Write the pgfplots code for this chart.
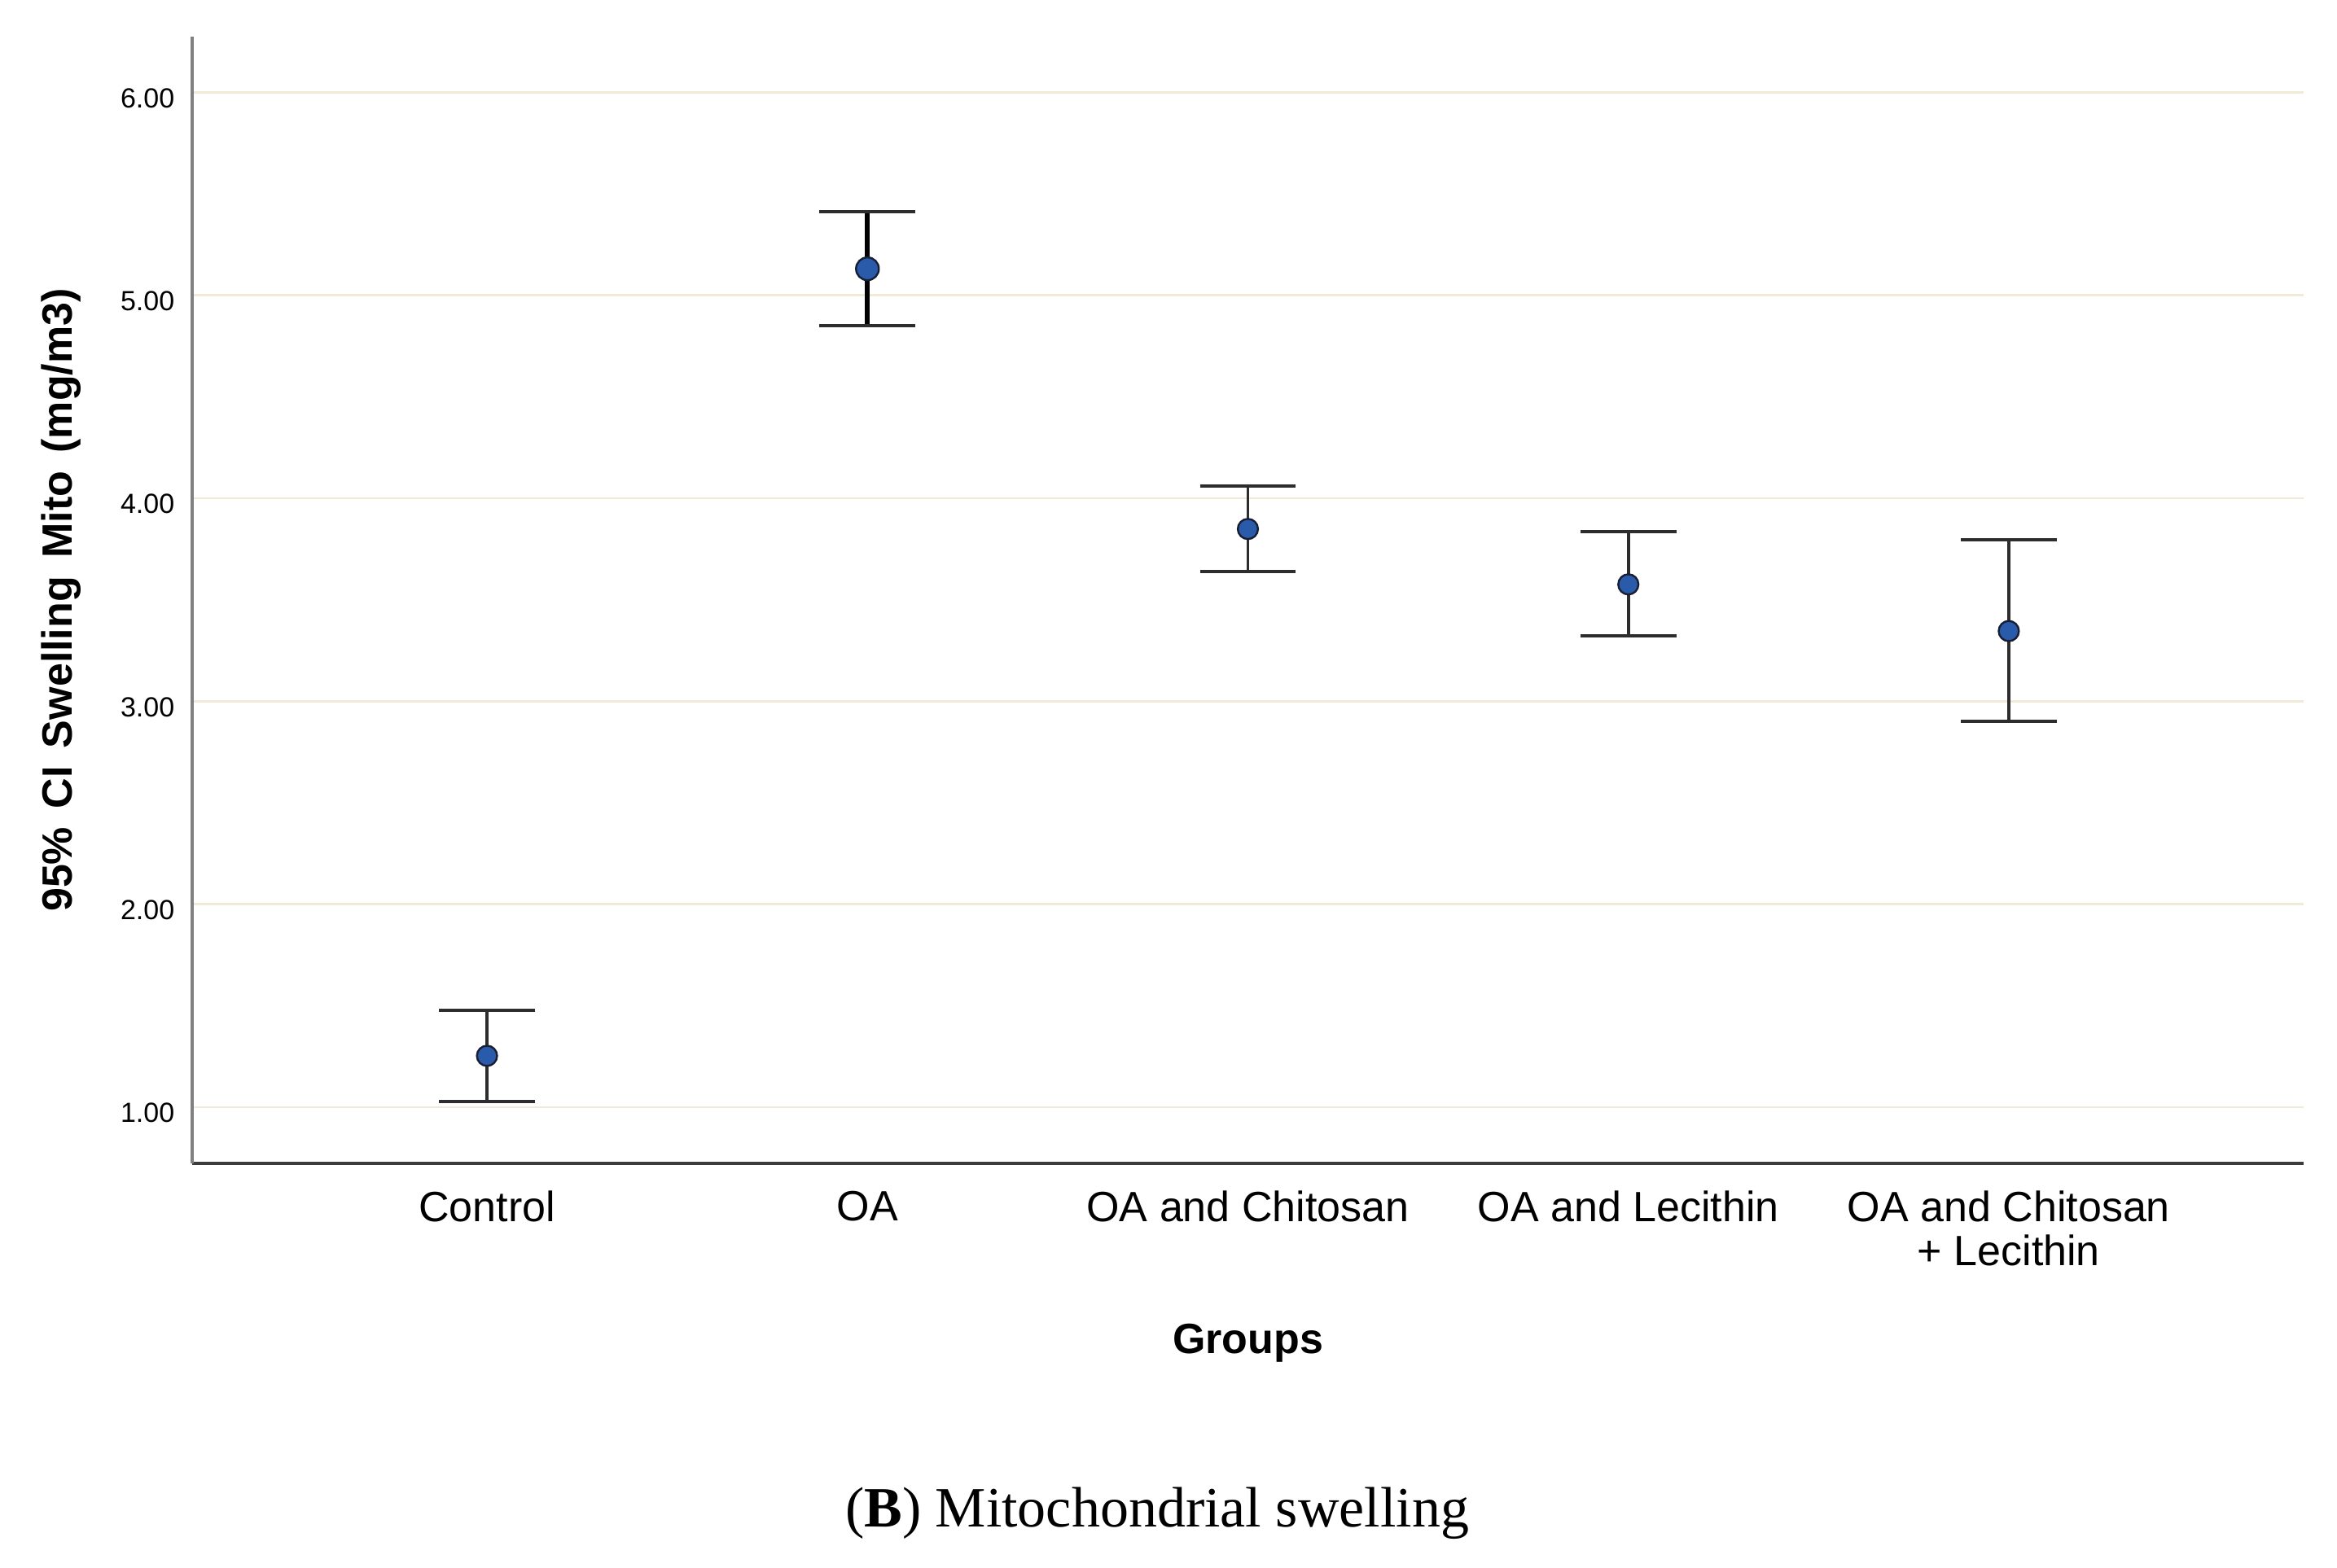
\documentclass[border=0pt]{standalone}
\usepackage{pgfplots}
\pgfplotsset{compat=1.18}
\usepackage{fontspec}
\setmainfont{Liberation Sans}
\newfontfamily\capfont{Liberation Serif}

\definecolor{gridcream}{RGB}{240,234,214}
\definecolor{markblue}{RGB}{42,90,170}
\definecolor{markedge}{RGB}{25,30,50}
\definecolor{bargray}{RGB}{45,45,45}
\definecolor{leftaxis}{RGB}{128,128,128}
\definecolor{bottomaxis}{RGB}{60,60,60}

\begin{document}
\begin{tikzpicture}
% 1pt = 4px of the 2870x1926 image
\path[use as bounding box] (-59pt,-124.25pt) rectangle (658.5pt,357.25pt);

\begin{axis}[
    at={(0,0)}, anchor=south west,
    scale only axis,
    width=648.25pt, height=346pt,
    xmin=-0.775, xmax=4.775,
    ymin=0.723, ymax=6.275,
    axis x line*=bottom,
    axis y line*=left,
    x axis line style={bottomaxis, line width=0.8pt},
    y axis line style={leftaxis, line width=0.9pt},
    major tick length=0pt,
    ymajorgrids,
    major grid style={gridcream, line width=0.7pt},
    ytick={1,2,3,4,5,6},
    xtick={0,1,2,3,4},
    xticklabels={Control, OA, OA and Chitosan, OA and Lecithin, {OA and Chitosan\\+ Lecithin}},
    /pgf/number format/.cd, fixed, fixed zerofill, precision=2, assume math mode=true,
    /pgfplots/.cd,
    yticklabel style={font=\fontsize{8.5}{10}\selectfont, anchor=east, inner sep=0pt, xshift=-5.25pt, yshift=-1.75pt},
    xticklabel style={font=\fontsize{13}{13.5}\selectfont, anchor=north, inner sep=0pt, yshift=-8.25pt, align=center},
    xlabel={\bfseries Groups},
    xlabel style={font=\fontsize{13}{15}\selectfont, at={(axis description cs:0.5,-0.1688)}, anchor=base},
    ylabel={\bfseries\spaceskip=5.6pt 95\% CI Swelling Mito (mg/m3)},
    ylabel style={font=\fontsize{13}{15}\selectfont, at={(axis description cs:-0.0567,0.5)}, anchor=base, rotate=0},
    clip=false,
]

% groups other than OA
\addplot[only marks, mark=*, mark size=3.1pt,
    mark options={fill=markblue, draw=markedge, line width=0.6pt},
    error bars/.cd, y dir=both, y explicit,
    error bar style={bargray, line width=0.9pt},
    error mark options={rotate=90, bargray, mark size=14.7pt, line width=1pt}]
coordinates {
    (0,1.253) += (0,0.225) -= (0,0.225)
    (2,3.849) += (0,0.212) -= (0,0.209)
    (3,3.576) += (0,0.258) -= (0,0.253)
    (4,3.346) += (0,0.450) -= (0,0.444)
};

% OA, drawn with heavier lines
\addplot[only marks, mark=*, mark size=3.5pt,
    mark options={fill=markblue, draw=markedge, line width=0.6pt},
    error bars/.cd, y dir=both, y explicit,
    error bar style={black, line width=1.4pt},
    error mark options={rotate=90, bargray, mark size=14.7pt, line width=1pt}]
coordinates {
    (1,5.131) += (0,0.283) -= (0,0.281)
};

\end{axis}

\node[anchor=base, font=\capfont\fontsize{17.5}{20}\selectfont] at (296.25pt,-111.7pt) {(\textbf{B}) Mitochondrial swelling};
\end{tikzpicture}
\end{document}
